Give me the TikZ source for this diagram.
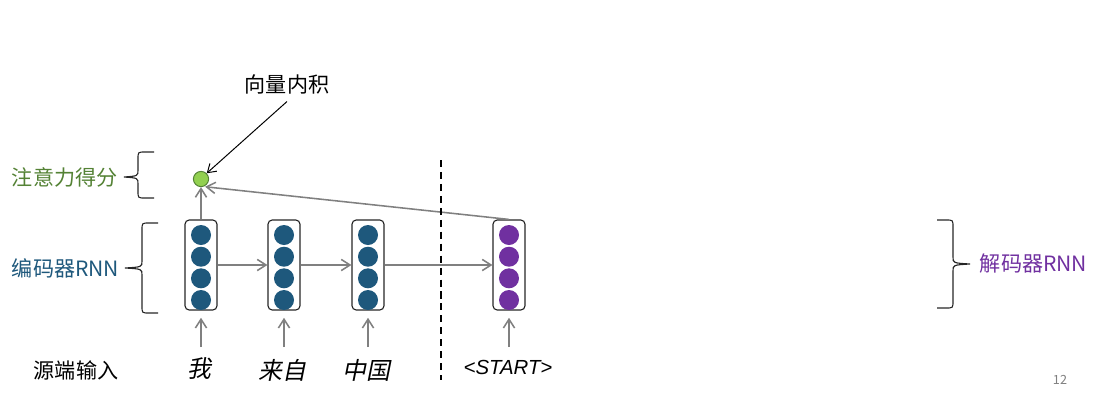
\documentclass[tikz,border=0pt]{standalone}
\usepackage{fontspec}
\setmainfont{Noto Sans CJK SC}
\newfontfamily\cjkslant[FakeSlant=0.2]{Noto Sans CJK SC}
\newfontfamily\latinsans{Liberation Sans}
\usetikzlibrary{positioning, arrows.meta, calc}
\definecolor{enc}{RGB}{30,88,124}
\definecolor{dec}{RGB}{112,48,160}
\definecolor{score}{RGB}{84,130,53}
\definecolor{scorefill}{RGB}{146,208,80}
\definecolor{mid}{gray}{0.50}

\begin{document}
\begin{tikzpicture}[
  x=0.025cm, y=-0.025cm,
  font=\fontsize{15}{18}\selectfont,
  cell/.style={draw=black!85, rounded corners=3pt, line width=.8pt,
               minimum width=0.8cm, minimum height=2.25cm, inner sep=0pt},
  unit/.style={circle, inner sep=0pt, minimum size=0.5cm},
  flow/.style={draw=mid, line width=1.1pt, -{Straight Barb[length=2.2mm, width=2.8mm]}},
  curl/.style={draw=black!85, line width=.8pt},
  word/.style={font=\fontsize{17}{18}\selectfont\cjkslant},
]
\useasboundingbox (0,0) rectangle (1118,415);

% encoder and decoder columns
\foreach \n/\x in {enc1/201, enc2/284, enc3/368}{
  \node[cell] (\n) at (\x,265) {};
  \foreach \k/\y in {1/235, 2/256.7, 3/278.3, 4/300}
    \node[unit, fill=enc] (\n u\k) at (\x,\y) {};
}
\node[cell] (dec1) at (509,265) {};
\foreach \k/\y in {1/235, 2/256.7, 3/278.3, 4/300}
  \node[unit, fill=dec] (dec1u\k) at (509,\y) {};

\draw[flow] (enc1) -- (enc2);
\draw[flow] (enc2) -- (enc3);
\draw[flow] (enc3) -- (dec1);

% attention score
\node[circle, draw=score, fill=scorefill, line width=.7pt, minimum size=0.38cm,
      inner sep=0pt] (dot) at (201,179) {};
\draw[flow] (enc1.north) -- (dot.south);
\draw[flow, shorten >=1pt] (dec1.north) -- (dot.-70);
\node (dotlabel) at (287,84) {向量内积};
\draw[black, line width=.7pt, -{Straight Barb[length=2mm, width=2.6mm]}]
  ([yshift=-2pt]dotlabel.south) -- (dot.north east);

% source words
\node[word] (in1) at (199,369) {我};
\node[word] (in2) at (282,370) {来自};
\node[word] (in3) at (366,370) {中国};
\node[font=\fontsize{14.5}{18}\selectfont\latinsans\itshape] (in4) at (508,367) {<START>};
\node (srclabel) at (76,370) {源端输入};
\foreach \i/\c in {1/enc1, 2/enc2, 3/enc3, 4/dec1}
  \draw[flow] (\c.south |- 0,347) -- ([yshift=-0.18cm]\c.south);

% split
\draw[black, line width=1pt, dash pattern=on 5pt off 3.5pt] (441,160) coordinate (cuttop)
  -- (441,380) coordinate (cutbot);

% side labels with braces
\node[text=score, anchor=west] (scorelabel) at (7,177) {注意力得分};
\node[text=enc, anchor=west] (enclabel) at (7,268) {编码器RNN};
\node[text=dec, anchor=west] (declabel) at (975,264) {解码器RNN};

\draw[curl] (154,152) -- (145,152) .. controls (138,152) .. (138,159) -- (138,170)
  .. controls (138,176) .. (124,177) .. controls (138,178) .. (138,184) -- (138,191)
  .. controls (138,198) .. (145,198) -- (154,198);
\draw[curl] (158,223) -- (149,223) .. controls (142,223) .. (142,230) -- (142,261)
  .. controls (142,267) .. (125,268) .. controls (142,269) .. (142,275) -- (142,306)
  .. controls (142,313) .. (149,313) -- (158,313);
\draw[curl] (937,220) -- (946,220) .. controls (953,220) .. (953,227) -- (953,257)
  .. controls (953,263) .. (970,264) .. controls (953,265) .. (953,271) -- (953,301)
  .. controls (953,308) .. (946,308) -- (937,308);

\node[text=mid, font=\fontsize{9}{10}\selectfont] (page) at (1060,380) {12};
\end{tikzpicture}
\end{document}
